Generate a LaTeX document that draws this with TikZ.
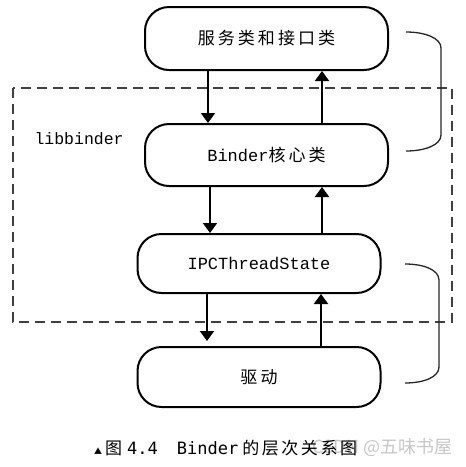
\documentclass[tikz,border=0pt]{standalone}
\usepackage{fontspec}
\usetikzlibrary{arrows.meta}
\newfontfamily\cjk[LetterSpace=18]{Noto Sans CJK SC}
\newfontfamily\cjkcap[LetterSpace=15]{Noto Sans CJK SC}
\newfontfamily\cjkplain{Noto Sans CJK SC}
\newfontfamily\monof{Liberation Mono}
\newfontfamily\capmono{DejaVu Sans Mono}
\tikzset{
  box/.style={draw, line width=2pt, rounded corners=24pt, minimum width=243pt, inner sep=0pt},
  arr/.style={line width=2pt, -{Triangle[width=14pt,length=10pt]}},
  brace/.style={line width=1.3pt, draw=black!85},
  dashbox/.style={draw=black!75, line width=1.3pt, dash pattern=on 10pt off 6pt},
  boxtext/.style={font=\fontsize{17}{20}\selectfont}
}
\begin{document}
\begin{tikzpicture}[x=1pt,y=-1pt]
\useasboundingbox[fill=white] (0,0) rectangle (466,467);
% dashed libbinder region
\draw[dashbox] (13,88) rectangle (452,322);
\node[anchor=west, font=\monof\fontsize{16.5}{18}\selectfont] (lib) at (31,139) {libbinder};
% boxes
\node[box, minimum height=63pt, boxtext] (b1) at (266.5,38.5) {\cjk 服务类和接口类};
\node[box, minimum height=62pt, boxtext] (b2) at (266.5,155) {\monof Binder\cjk 核心类};
\node[box, minimum height=59pt, boxtext] (b3) at (259,263.5) {\monof IPCThreadState};
\node[box, minimum height=60pt, boxtext] (b4) at (259,377) {\cjk 驱动};
% arrow x positions
\coordinate (d1) at (208,0);
\coordinate (d2) at (210,0);
\coordinate (d3) at (207,0);
\coordinate (u1) at (322,0);
\coordinate (u2) at (322,0);
\coordinate (u3) at (321,0);
\draw[arr] (b1.south -| d1) -- (b2.north -| d1);
\draw[arr] (b2.north -| u1) -- (b1.south -| u1);
\draw[arr] (b2.south -| d2) -- (b3.north -| d2);
\draw[arr] (b3.north -| u2) -- (b2.south -| u2);
\draw[arr, shorten >=5pt] (b3.south -| d3) -- (b4.north -| d3);
\draw[arr] (b4.north -| u3) -- (b3.south -| u3);
% braces
\coordinate (t1) at (406,32);
\coordinate (e1) at (406,151);
\coordinate (t2) at (405,264);
\coordinate (e2) at (405,383);
\draw[brace] (t1) .. controls (425,32) and (441,38) .. (441,48) -- (441,135) .. controls (441,145) and (425,151) .. (e1);
\draw[brace] (t2) .. controls (424,264) and (439,270) .. (439,280) -- (439,367) .. controls (439,377) and (424,383) .. (e2);
% watermark (behind caption)
\node[anchor=west, inner sep=0pt, text=black!22, font=\cjkplain\fontsize{18}{20}\selectfont] (wm) at (312,448) {CSDN @五味书屋};
% caption
\node[anchor=west, inner sep=0pt, font=\fontsize{17}{20}\selectfont] (cap) at (94,448)
  {\cjkplain{\fontsize{8}{10}\selectfont ▲}\hspace{3pt}\cjkplain 图\hspace{5pt}\capmono 4.4\hspace{19pt}Binder\hspace{4pt}\cjkcap 的层次关系图};
\end{tikzpicture}
\end{document}
